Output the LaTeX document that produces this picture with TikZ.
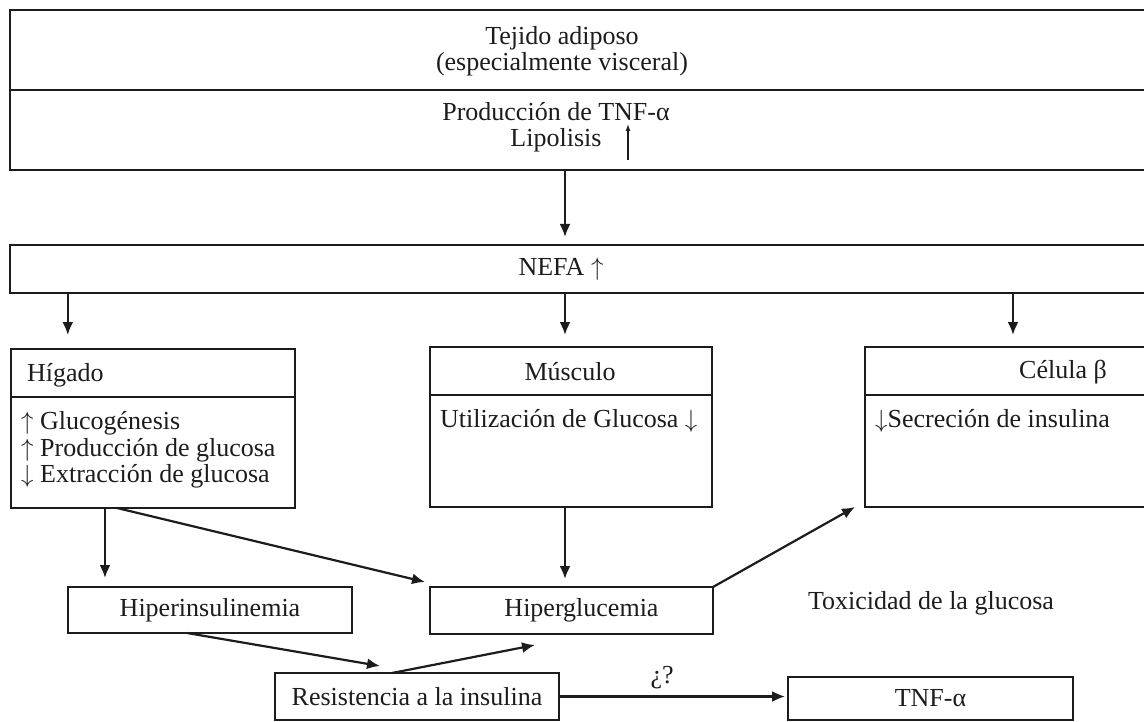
\documentclass[tikz,border=0pt]{standalone}
\usepackage{fontspec}
\setmainfont{Liberation Serif}
\usepackage{tikz}
\usetikzlibrary{calc,arrows.meta}
\definecolor{ink}{HTML}{1C1C1C}
\tikzset{
  box/.style={draw=ink, line width=2.5pt, inner sep=0pt, outer sep=0pt},
  arr/.style={draw=ink, line width=2.2pt, -{Latex[length=13pt,width=11pt]}},
  tinyarr/.style={draw=ink, line width=1.3pt, -{Latex[length=7pt,width=5pt]}},
  lab/.style={text=ink, inner sep=0pt, font=\fontsize{26}{26.5}\selectfont},
  every node/.style={text=ink}
}

\begin{document}
\begin{tikzpicture}[x=1pt,y=-1pt]
  \useasboundingbox (0,0) rectangle (1144,722);

  % adipose tissue
  \node[box, minimum width=1160pt, minimum height=80pt] (tej) at (590,50) {};
  \node[box, minimum width=1160pt, minimum height=80pt] (prod) at (590,130) {};
  \node[lab, align=center] (tejtxt) at (562,51) {Tejido adiposo\\(especialmente visceral)};
  \node[lab, align=center] (prodtxt) at (556,127) {Producción de TNF-α\\Lipolisis};
  \coordinate (lipA) at (628,160);
  \coordinate (lipB) at (628,124);
  \draw[tinyarr] (lipA) -- (lipB);

  \node[box, minimum width=1160pt, minimum height=48pt] (nefa) at (590,269) {};
  \node[lab] (nefatxt) at (561,269) {NEFA $\uparrow$};

  % organs
  \node[box, minimum width=284pt, minimum height=48pt] (higH) at (153,373) {};
  \node[box, minimum width=284pt, minimum height=111pt] (higB) at (153,452.5) {};
  \node[lab, anchor=west] (higtxt) at (27,375) {Hígado};
  \node[lab, anchor=west, align=left] (higlist) at (21,450)
    {$\uparrow$ Glucogénesis\\$\uparrow$ Producción de glucosa\\$\downarrow$ Extracción de glucosa};

  \node[box, minimum width=282pt, minimum height=48pt] (musH) at (571,371) {};
  \node[box, minimum width=282pt, minimum height=112pt] (musB) at (571,451) {};
  \node[lab] (mustxt) at (570,372) {Músculo};
  \node[lab, anchor=west] (muslist) at (440,421) {Utilización de Glucosa $\downarrow$};

  \node[box, minimum width=305pt, minimum height=48pt] (celH) at (1017.5,371) {};
  \node[box, minimum width=305pt, minimum height=112pt] (celB) at (1017.5,451) {};
  \node[lab] (celtxt) at (1063,372) {Célula β};
  \node[lab, anchor=west] (cellist) at (875,421) {$\downarrow$Secreción de insulina};

  % results
  \node[box, lab, minimum width=284pt, minimum height=46pt] (hins) at (210,610) {Hiperinsulinemia};
  \node[box, lab, minimum width=283pt, minimum height=47pt] (hglu) at (571.5,610.5) {\hspace*{20pt}Hiperglucemia};
  \node[box, lab, minimum width=284pt, minimum height=47pt] (res) at (417,696.5) {Resistencia a la insulina};
  \node[box, lab, minimum width=285pt, minimum height=43pt] (tnf) at (930.5,698.5) {TNF-α};
  \node[lab] (tox) at (931,603) {Toxicidad de la glucosa};

  \coordinate (hx) at ($(higH.north west)!0.2!(higH.north east)$);
  \coordinate (cx) at ($(celH.north west)+(148,0)$);
  \coordinate (mx) at ($(musB.south)+(-6,0)$);
  \coordinate (hd) at ($(higB.south west)+(94,0)$);
  \coordinate (hg) at ($(higB.south west)+(106,0)$);

  \draw[arr, shorten >=8pt] (prod.south -| mx) -- (nefa.north -| mx);
  \draw[arr, shorten >=14pt] (nefa.south -| hx) -- (higH.north -| hx);
  \draw[arr, shorten >=12pt] (nefa.south -| mx) -- (musH.north -| mx);
  \draw[arr, shorten >=12pt] (nefa.south -| cx) -- (celH.north -| cx);

  \draw[arr, shorten >=9pt] (hd) -- (hins.north -| hd);
  \draw[arr] (hg) -- ([shift={(-5,-5)}]hglu.north west);
  \draw[arr, shorten >=8pt] (mx) -- (hglu.north -| mx);
  \draw[arr] (hglu.north east) -- ([xshift=-10pt]celB.south west);

  \draw[arr] ([xshift=-23pt]hins.south) -- ([shift={(-37,-7)}]res.north);
  \draw[arr] ([xshift=-25pt]res.north) -- ([shift={(105,11)}]hglu.south west);
  \draw[arr, shorten >=3pt] (res.east) -- node[lab, pos=0.45, above=7pt] (q) {¿?} (tnf.west |- res.east);
\end{tikzpicture}
\end{document}
